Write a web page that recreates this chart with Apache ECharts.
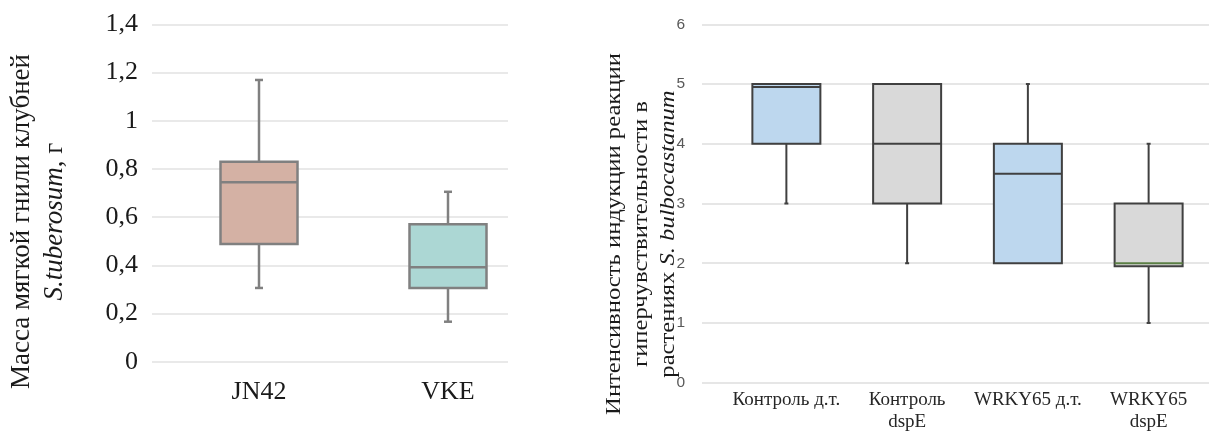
<!DOCTYPE html>
<html>
<head>
<meta charset="utf-8">
<script src="https://cdn.jsdelivr.net/npm/echarts@6/dist/echarts.min.js"></script>
<style>
html,body{margin:0;padding:0;background:#fff;}
#chart{width:1209px;height:437px;}
</style>
</head>
<body>
<div id="chart"></div>
<script>
// ---------- Left chart data ----------
const leftCategories = ['JN42', 'VKE'];
// [min, Q1, median, Q3, max]
const leftJN42 = [0.306, 0.488, 0.745, 0.830, 1.169];
const leftVKE  = [0.166, 0.306, 0.392, 0.570, 0.705];
const leftTicks = { min: 0, max: 1.4, interval: 0.2 };
const leftTitleLine1 = 'Масса мягкой гнили клубней';
const leftTitleItalic = 'S.tuberosum';
const leftTitleRest = ', г';

// ---------- Right chart data ----------
const rightCategories = ['Контроль д.т.', 'Контроль\ndspE', 'WRKY65 д.т.', 'WRKY65\ndspE'];
const rightControlWT   = [3, 4, 4.95, 5, 5];
const rightControlDspE = [2, 3, 4, 5, 5];
const rightWRKYWT      = [2, 2, 3.5, 4, 5];
const rightWRKYDspE    = [1, 1.95, 2.0, 3, 4];
const rightTicks = { min: 0, max: 6, interval: 1 };
const rightTitleLine1 = 'Интенсивность индукции реакции';
const rightTitleLine2 = 'гиперчувствительности в';
const rightTitleLine3a = 'растениях ';
const rightTitleItalic = 'S. bulbocastanum';

// ---------- styles ----------
const leftFills = ['#d4b1a4', '#acd7d4'];
const rightFills = ['#bdd7ee', '#d9d9d9', '#bdd7ee', '#d9d9d9'];
const rightMedianColors = ['#404040', '#404040', '#404040', '#5b7f45'];

function makeRender(opts) {
  return function (params, api) {
    const idx = api.value(0);
    const lo = api.coord([idx, api.value(1)]);
    const q1 = api.coord([idx, api.value(2)]);
    const md = api.coord([idx, api.value(3)]);
    const q3 = api.coord([idx, api.value(4)]);
    const hi = api.coord([idx, api.value(5)]);
    const bw = opts.boxPx;
    const cx = q1[0];
    const x0 = cx - bw / 2;
    const lineStyle = { stroke: opts.border, lineWidth: opts.lw };
    const children = [];
    if (hi[1] < q3[1] - 0.5) {
      children.push({ type: 'line', shape: { x1: cx, y1: q3[1], x2: cx, y2: hi[1] }, style: lineStyle });
      children.push({ type: 'line', shape: { x1: cx - opts.cap / 2, y1: hi[1], x2: cx + opts.cap / 2, y2: hi[1] }, style: lineStyle });
    }
    if (lo[1] > q1[1] + 0.5) {
      children.push({ type: 'line', shape: { x1: cx, y1: q1[1], x2: cx, y2: lo[1] }, style: lineStyle });
      children.push({ type: 'line', shape: { x1: cx - opts.cap / 2, y1: lo[1], x2: cx + opts.cap / 2, y2: lo[1] }, style: lineStyle });
    }
    children.push({
      type: 'rect',
      shape: { x: x0, y: q3[1], width: bw, height: q1[1] - q3[1] },
      style: { fill: opts.fills[params.dataIndex], stroke: opts.border, lineWidth: opts.lw }
    });
    children.push({
      type: 'line',
      shape: { x1: x0, y1: md[1], x2: x0 + bw, y2: md[1] },
      style: { stroke: opts.medians ? opts.medians[params.dataIndex] : opts.border, lineWidth: opts.lw }
    });
    return { type: 'group', children: children };
  };
}

function toRows(list) {
  return list.map(function (v, i) { return [i].concat(v); });
}

const chart = echarts.init(document.getElementById('chart'), null, { renderer: 'canvas' });

const option = {
  animation: false,
  backgroundColor: '#ffffff',
  grid: [
    { left: 152, width: 356, top: 24.3, height: 337.4 },
    { left: 164.5, width: 378, top: 24.3, height: 337.4 },
    { left: 702, width: 507, top: 24.3, height: 358.4 },
    { left: 726, width: 490, top: 24.3, height: 358.4 }
  ],
  xAxis: [
    { gridIndex: 0, type: 'category', data: leftCategories, show: false },
    {
      gridIndex: 1, type: 'category', data: leftCategories,
      axisLine: { show: false }, axisTick: { show: false },
      axisLabel: { fontFamily: 'Liberation Serif', fontSize: 26, color: '#1a1a1a', margin: 17 }
    },
    { gridIndex: 2, type: 'category', data: rightCategories, show: false },
    {
      gridIndex: 3, type: 'category', data: rightCategories,
      axisLine: { show: false }, axisTick: { show: false },
      axisLabel: { fontFamily: 'Liberation Serif', fontSize: 19, color: '#262626', margin: 6, lineHeight: 22, interval: 0 }
    }
  ],
  yAxis: [
    {
      gridIndex: 0, type: 'value', min: leftTicks.min, max: leftTicks.max, interval: leftTicks.interval,
      axisLine: { show: false }, axisTick: { show: false },
      splitLine: { lineStyle: { color: '#e2e2e2', width: 1.5 } },
      axisLabel: {
        fontFamily: 'Liberation Serif', fontSize: 26, color: '#1a1a1a', margin: 14,
        formatter: function (v) { return String(Math.round(v * 10) / 10).replace('.', ','); }
      }
    },
    { gridIndex: 1, type: 'value', min: leftTicks.min, max: leftTicks.max, show: false, splitLine: { show: false } },
    {
      gridIndex: 2, type: 'value', min: rightTicks.min, max: rightTicks.max, interval: rightTicks.interval,
      axisLine: { show: false }, axisTick: { show: false },
      splitLine: { lineStyle: { color: '#dedede', width: 1.5 } },
      axisLabel: { fontFamily: 'Liberation Sans', fontSize: 15.5, color: '#595959', margin: 17 }
    },
    { gridIndex: 3, type: 'value', min: rightTicks.min, max: rightTicks.max, show: false, splitLine: { show: false } }
  ],
  series: [
    {
      type: 'custom', xAxisIndex: 1, yAxisIndex: 1,
      renderItem: makeRender({ boxPx: 77, cap: 8, lw: 2.5, border: '#808080', fills: leftFills }),
      encode: { x: 0, y: [1, 2, 3, 4, 5] },
      data: toRows([leftJN42, leftVKE])
    },
    {
      type: 'custom', xAxisIndex: 3, yAxisIndex: 3,
      renderItem: makeRender({ boxPx: 68, cap: 4, lw: 2, border: '#404040', fills: rightFills, medians: rightMedianColors }),
      encode: { x: 0, y: [1, 2, 3, 4, 5] },
      data: toRows([rightControlWT, rightControlDspE, rightWRKYWT, rightWRKYDspE])
    }
  ],
  graphic: [
    {
      type: 'text', x: 38.5, y: 221.5, rotation: Math.PI / 2,
      style: {
        text: leftTitleLine1 + '\n{i|' + leftTitleItalic + '}' + leftTitleRest,
        font: '27px "Liberation Serif"', fill: '#1a1a1a',
        align: 'center', verticalAlign: 'middle', lineHeight: 33,
        rich: { i: { fontStyle: 'italic', fontFamily: 'Liberation Serif', fontSize: 27, lineHeight: 33 } }
      }
    },
    {
      type: 'text', x: 641, y: 234, rotation: Math.PI / 2, scaleX: 1.12, scaleY: 1,
      style: {
        text: rightTitleLine1 + '\n' + rightTitleLine2 + '\n' + rightTitleLine3a + '{i|' + rightTitleItalic + '}',
        font: '22px "Liberation Serif"', fill: '#1a1a1a',
        align: 'center', verticalAlign: 'middle', lineHeight: 27,
        rich: { i: { fontStyle: 'italic', fontFamily: 'Liberation Serif', fontSize: 22, lineHeight: 27 } }
      }
    }
  ]
};
chart.setOption(option);
</script>
</body>
</html>
